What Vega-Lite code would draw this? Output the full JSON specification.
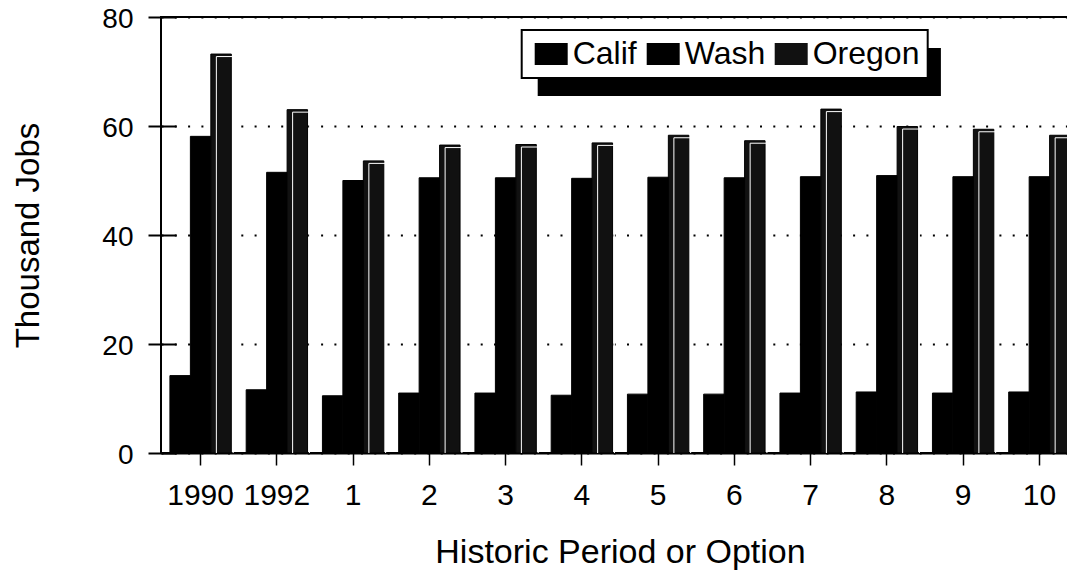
{
  "$schema": "https://vega.github.io/schema/vega-lite/v6.json",
  "autosize": "none",
  "padding": {"left": 161, "top": 17, "right": 0, "bottom": 124},
  "width": 918,
  "height": 436,
  "background": "white",
  "config": {
    "font": "Liberation Sans",
    "view": {"stroke": "black", "strokeWidth": 2},
    "axis": {"labelColor": "black", "titleColor": "black", "titleFontWeight": "normal"}
  },
  "data": {
    "values": [
      {"period": "1990", "state": "Calif", "jobs": 14.2},
      {"period": "1990", "state": "Wash", "jobs": 58.1},
      {"period": "1990", "state": "Oregon", "jobs": 73.2},
      {"period": "1992", "state": "Calif", "jobs": 11.6},
      {"period": "1992", "state": "Wash", "jobs": 51.5},
      {"period": "1992", "state": "Oregon", "jobs": 63.0},
      {"period": "1", "state": "Calif", "jobs": 10.5},
      {"period": "1", "state": "Wash", "jobs": 50.0},
      {"period": "1", "state": "Oregon", "jobs": 53.6},
      {"period": "2", "state": "Calif", "jobs": 11.0},
      {"period": "2", "state": "Wash", "jobs": 50.5},
      {"period": "2", "state": "Oregon", "jobs": 56.5},
      {"period": "3", "state": "Calif", "jobs": 11.0},
      {"period": "3", "state": "Wash", "jobs": 50.5},
      {"period": "3", "state": "Oregon", "jobs": 56.6},
      {"period": "4", "state": "Calif", "jobs": 10.6},
      {"period": "4", "state": "Wash", "jobs": 50.4},
      {"period": "4", "state": "Oregon", "jobs": 56.9},
      {"period": "5", "state": "Calif", "jobs": 10.8},
      {"period": "5", "state": "Wash", "jobs": 50.6},
      {"period": "5", "state": "Oregon", "jobs": 58.3},
      {"period": "6", "state": "Calif", "jobs": 10.8},
      {"period": "6", "state": "Wash", "jobs": 50.5},
      {"period": "6", "state": "Oregon", "jobs": 57.3},
      {"period": "7", "state": "Calif", "jobs": 11.0},
      {"period": "7", "state": "Wash", "jobs": 50.7},
      {"period": "7", "state": "Oregon", "jobs": 63.1},
      {"period": "8", "state": "Calif", "jobs": 11.2},
      {"period": "8", "state": "Wash", "jobs": 50.9},
      {"period": "8", "state": "Oregon", "jobs": 59.9},
      {"period": "9", "state": "Calif", "jobs": 11.0},
      {"period": "9", "state": "Wash", "jobs": 50.7},
      {"period": "9", "state": "Oregon", "jobs": 59.4},
      {"period": "10", "state": "Calif", "jobs": 11.2},
      {"period": "10", "state": "Wash", "jobs": 50.7},
      {"period": "10", "state": "Oregon", "jobs": 58.3}
    ]
  },
  "encoding": {
    "x": {
      "field": "period",
      "type": "nominal",
      "sort": null,
      "scale": {"paddingInner": 0.195, "paddingOuter": 0.117},
      "axis": {
        "title": "Historic Period or Option",
        "titleFontSize": 34,
        "titlePadding": 25,
        "labelFontSize": 30,
        "labelAngle": 0,
        "labelPadding": 15,
        "tickSize": 12,
        "tickWidth": 1.5,
        "tickColor": "black",
        "domainColor": "black",
        "domainWidth": 2
      }
    },
    "xOffset": {
      "field": "state",
      "type": "nominal",
      "scale": {"domain": ["Calif", "Wash", "Oregon"], "paddingInner": 0, "paddingOuter": 0}
    },
    "y": {
      "field": "jobs",
      "type": "quantitative",
      "scale": {"domain": [0, 80], "nice": false},
      "axis": {
        "title": "Thousand Jobs",
        "titleFontSize": 33,
        "titlePadding": 56,
        "values": [0, 20, 40, 60, 80],
        "offset": -15,
        "domain": false,
        "tickSize": 28,
        "tickWidth": 2,
        "tickColor": "black",
        "labelFontSize": 28,
        "labelPadding": 15,
        "labelOffset": 2,
        "grid": true,
        "gridColor": "black",
        "gridWidth": 2,
        "gridDash": [2, 11.3]
      }
    }
  },
  "layer": [
    {
      "mark": {"type": "bar", "strokeWidth": 1},
      "encoding": {
        "color": {
          "field": "state",
          "type": "nominal",
          "scale": {"domain": ["Calif", "Wash", "Oregon"], "range": ["#000000", "#000000", "#111111"]},
          "legend": {
            "title": null,
            "orient": "none",
            "legendX": 360.7,
            "legendY": 13,
            "direction": "horizontal",
            "fillColor": "white",
            "strokeColor": "black",
            "padding": 8,
            "columnPadding": 4,
            "symbolType": "M-1,-1H2V1H-1Z",
            "symbolSize": 484,
            "symbolStrokeWidth": 0,
            "symbolOpacity": 1,
            "labelFontSize": 32,
            "labelColor": "black",
            "labelOffset": 11,
            "labelLimit": 300,
            "zindex": 2,
            "encode": {"legend": {"update": {"strokeWidth": {"value": 2}}}}
          }
        },
        "stroke": {
          "field": "state",
          "type": "nominal",
          "scale": {"range": ["#000000", "#000000", "#000000"]},
          "legend": {
            "title": null,
            "orient": "none",
            "legendX": 376.7,
            "legendY": 31,
            "values": ["Calif"],
            "padding": 0,
            "symbolType": "M-1,-1H15.8V1H-1Z",
            "symbolSize": 2304,
            "symbolFillColor": "black",
            "symbolStrokeColor": "black",
            "symbolStrokeWidth": 0,
            "symbolOpacity": 1,
            "labelExpr": "''",
            "labelFontSize": 1,
            "labelOffset": 0,
            "zindex": 1
          }
        }
      }
    },
    {
      "transform": [{"filter": "datum.state === 'Oregon'"}],
      "mark": {
        "type": "bar",
        "fillOpacity": 0,
        "stroke": "white",
        "strokeWidth": 1,
        "width": {"band": 0.82},
        "yOffset": 2.5,
        "y2Offset": 3,
        "clip": true
      }
    }
  ]
}
